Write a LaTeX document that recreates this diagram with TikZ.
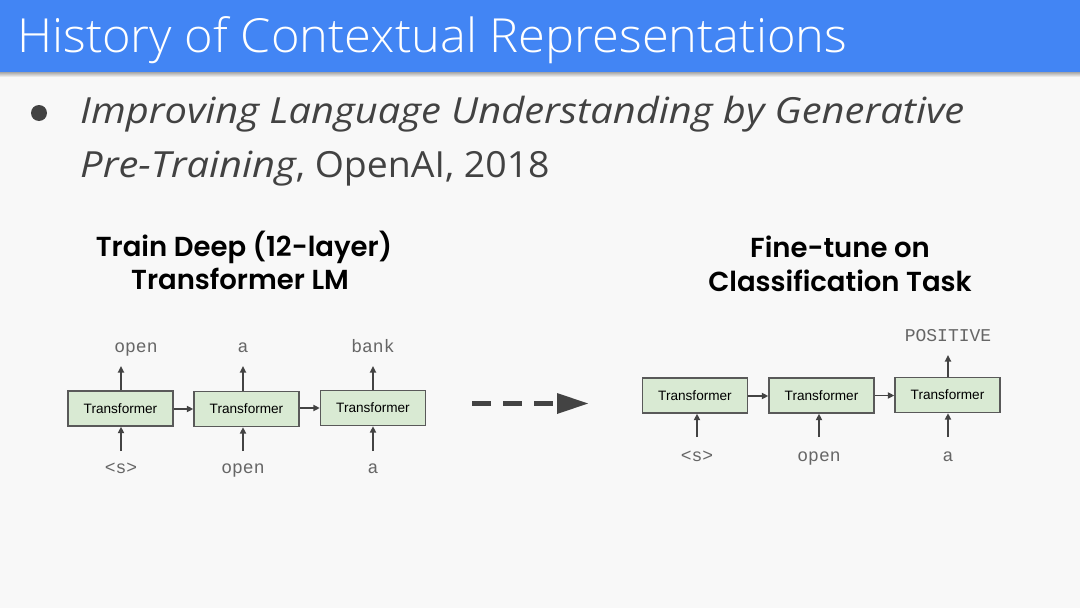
\documentclass[tikz,border=0pt]{standalone}
\usepackage{fontspec}
\usetikzlibrary{arrows.meta}
\IfFontExistsTF{Open Sans Light}{\newfontfamily\titlefont[FakeStretch=1.038]{Open Sans Light}}{\newfontfamily\titlefont[FakeStretch=1.038]{Open Sans}}
\newfontfamily\bodyit[FakeStretch=1.108]{Open Sans Italic}
\newfontfamily\bodyrm[FakeStretch=1.04]{Open Sans}
\IfFontExistsTF{Poppins SemiBold}{\newfontfamily\headfont{Poppins SemiBold}}{\newfontfamily\headfont[UprightFont=*-Bold]{Poppins}}
\newfontfamily\boxfont{Liberation Sans}
\newfontfamily\monofont{Liberation Mono}
\definecolor{bg}{HTML}{F8F8F8}
\definecolor{titleblue}{HTML}{4285F4}
\definecolor{bodygray}{HTML}{424242}
\definecolor{boxgreen}{HTML}{D9EAD3}
\definecolor{boxline}{HTML}{595959}
\definecolor{arrgray}{HTML}{434343}
\definecolor{labgray}{HTML}{666666}
\begin{document}
\begin{tikzpicture}[x=1pt,y=-1pt,
  tbox/.style={draw=boxline,fill=boxgreen,line width=1.3pt,minimum width=105pt,minimum height=35pt,inner sep=0pt,font=\boxfont\fontsize{13.6}{16}\selectfont,text=black},
  lab/.style={inner sep=0pt,anchor=base,font=\monofont\fontsize{18}{20}\selectfont,text=labgray},
  arr/.style={draw=arrgray,line width=1.8pt,-{Triangle[length=6.5pt,width=6pt]}},
  head/.style={inner sep=0pt,anchor=base,font=\headfont\fontsize{27.5}{32}\selectfont,text=black}]
\useasboundingbox (0,0) rectangle (1080,608);
\fill[bg] (0,0) rectangle (1080,608);
\shade[top color=black!35,bottom color=bg] (0,72) rectangle (1080,77);
\fill[titleblue] (0,0) rectangle (1080,72);
\node[anchor=base west,inner sep=0pt,text=white,font=\titlefont\fontsize{47}{56}\selectfont] (title) at (17,52) {History of Contextual Representations};
% bullet
\fill[bodygray] (39,113) circle (8);
\node[anchor=base west,inner sep=0pt,text=bodygray,font=\fontsize{36}{42}\selectfont] (b1line) at (80,123) {\bodyit Improving Language Understanding by Generative};
\node[anchor=base west,inner sep=0pt,text=bodygray,font=\fontsize{36}{42}\selectfont] (b2line) at (80,177) {{\bodyit Pre-Training}\bodyrm, OpenAI, 2018};
% headings
\node[head] (h1) at (244,256) {Train Deep (12-layer)};
\node[head] (h2) at (240,289) {Transformer LM};
\node[head] (h3) at (840,257) {Fine-tune on};
\node[head] (h4) at (840,291) {Classification Task};
% left boxes
\node[tbox] (L1) at (120.5,408.5) {Transformer};
\node[tbox] (L2) at (246.5,409) {Transformer};
\node[tbox] (L3) at (373,408) {Transformer};
\draw[arr] (L1.east |- 0,409) -- (L2.west |- 0,409);
\draw[arr] (L2.east |- 0,408) -- (L3.west |- 0,408);
\node[lab] (Lo1) at (136,352) {open};
\node[lab] (Lo2) at (243,352) {a};
\node[lab] (Lo3) at (373,352) {bank};
\coordinate (Lt1) at (121,366);
\coordinate (Lt2) at (243,366);
\coordinate (Lt3) at (373,366);
\draw[arr] (L1.north -| Lt1) -- (Lt1);
\draw[arr] (L2.north -| Lt2) -- (Lt2);
\draw[arr] (L3.north -| Lt3) -- (Lt3);
\node[lab] (Li1) at (121,473) {<s>};
\node[lab] (Li2) at (243,473) {open};
\node[lab] (Li3) at (373,473) {a};
\coordinate (Lb1) at (121,451);
\coordinate (Lb2) at (243,451);
\coordinate (Lb3) at (373,451);
\draw[arr] (Lb1) -- (L1.south -| Lb1);
\draw[arr] (Lb2) -- (L2.south -| Lb2);
\draw[arr] (Lb3) -- (L3.south -| Lb3);
% big dashed arrow
\coordinate (da) at (472,403.5);
\coordinate (db) at (557,403.5);
\coordinate (dc) at (588,403.5);
\draw[arrgray,line width=5pt,dash pattern=on 19pt off 12pt] (da) -- (db);
\fill[arrgray] (557,393) -- (dc) -- (557,414) -- cycle;
% right boxes
\node[tbox] (R1) at (695,395.5) {Transformer};
\node[tbox] (R2) at (821.5,395.5) {Transformer};
\node[tbox] (R3) at (947.5,395) {Transformer};
\draw[arr] (R1.east |- 0,396) -- (R2.west |- 0,396);
\draw[arr] (R2.east |- 0,395.5) -- (R3.west |- 0,395.5);
\node[lab] (Ro3) at (948,341) {POSITIVE};
\coordinate (Rt3) at (948,355);
\draw[arr] (R3.north -| Rt3) -- (Rt3);
\node[lab] (Ri1) at (697,461) {<s>};
\node[lab] (Ri2) at (819,461) {open};
\node[lab] (Ri3) at (948,461) {a};
\coordinate (Rb1) at (697,437);
\coordinate (Rb2) at (819,437);
\coordinate (Rb3) at (948,437);
\draw[arr] (Rb1) -- (R1.south -| Rb1);
\draw[arr] (Rb2) -- (R2.south -| Rb2);
\draw[arr] (Rb3) -- (R3.south -| Rb3);
\end{tikzpicture}
\end{document}
